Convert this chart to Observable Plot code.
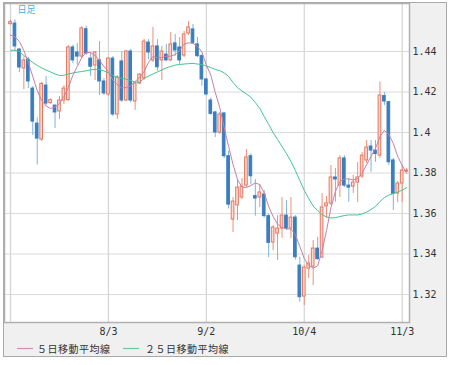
<!DOCTYPE html>
<html><head><meta charset="utf-8">
<script src="https://cdn.jsdelivr.net/npm/d3@7"></script>
<script src="https://cdn.jsdelivr.net/npm/@observablehq/plot@0.6"></script>
<style>
body{margin:0;background:#fff;}
#wrap{position:relative;width:453px;height:365px;overflow:hidden;}
#panel{position:absolute;left:3px;top:2px;width:444px;height:355px;box-sizing:border-box;background:#f0f0f0;border:1px solid #a9a9a9;}
#chart{position:absolute;left:0;top:0;}
</style></head><body>
<div id="wrap"><div id="panel"></div><div id="chart"></div></div>
<script>
const dates = ["7/4","7/5","7/6","7/7","7/8","7/11","7/12","7/13","7/14","7/15","7/18","7/19","7/20","7/21","7/22","7/25","7/26","7/27","7/28","7/29",
"8/1","8/2","8/3","8/4","8/5","8/8","8/9","8/10","8/11","8/12","8/15","8/16","8/17","8/18","8/19","8/22","8/23","8/24","8/25","8/26","8/29","8/30","8/31",
"9/1","9/2","9/5","9/6","9/7","9/8","9/9","9/12","9/13","9/14","9/15","9/16","9/19","9/20","9/21","9/22","9/23","9/26","9/27","9/28","9/29","9/30",
"10/3","10/4","10/5","10/6","10/7","10/10","10/11","10/12","10/13","10/14","10/17","10/18","10/19","10/20","10/21","10/24","10/25","10/26","10/27","10/28","10/31",
"11/1","11/2","11/3","11/4"];
const open = [1.4535,1.4538,1.4410,1.4316,1.4360,1.4217,1.4044,1.3965,1.4232,1.4145,1.4133,1.4104,1.4158,1.4160,1.4420,1.4395,1.4375,1.4510,1.4365,1.4331,
1.4356,1.4252,1.4188,1.4365,1.4089,1.4351,1.4158,1.4400,1.4153,1.4242,1.4267,1.4444,1.4356,1.4425,1.4356,1.4385,1.4356,1.4440,1.4420,1.4380,1.4489,1.4509,1.4435,
1.4377,1.4262,1.4158,1.4099,1.4000,1.4094,1.3883,1.3570,1.3640,1.3679,1.3738,1.3883,1.3686,1.3679,1.3694,1.3587,1.3457,1.3501,1.3526,1.3590,1.3526,1.3580,
1.3343,1.3190,1.3328,1.3338,1.3427,1.3383,1.3635,1.3649,1.3778,1.3738,1.3872,1.3738,1.3733,1.3753,1.3783,1.3862,1.3931,1.3911,1.3886,1.4180,1.4150,
1.3862,1.3699,1.3748,1.3807];
const high = [1.4555,1.4556,1.4412,1.4373,1.4370,1.4227,1.4072,1.4247,1.4277,1.4165,1.4135,1.4178,1.4232,1.4430,1.4431,1.4440,1.4523,1.4525,1.4390,1.4400,
1.4449,1.4267,1.4370,1.4375,1.4281,1.4400,1.4405,1.4410,1.4247,1.4291,1.4459,1.4459,1.4519,1.4459,1.4425,1.4435,1.4494,1.4484,1.4469,1.4499,1.4548,1.4533,1.4469,
1.4385,1.4265,1.4170,1.4105,1.4099,1.4099,1.3907,1.3679,1.3768,1.3773,1.3916,1.3895,1.3768,1.3743,1.3714,1.3595,1.3541,1.3590,1.3679,1.3664,1.3679,1.3590,
1.3384,1.3343,1.3393,1.3467,1.3483,1.3699,1.3684,1.3837,1.3822,1.3886,1.3886,1.3773,1.3788,1.3852,1.3901,1.3960,1.3960,1.3960,1.4249,1.4199,1.4153,
1.3872,1.3758,1.3837,1.3822];
const low = [1.4530,1.4400,1.4296,1.4212,1.4217,1.3985,1.3840,1.3956,1.4133,1.4140,1.4020,1.4064,1.4138,1.4153,1.4341,1.4332,1.4365,1.4380,1.4276,1.4257,
1.4183,1.4183,1.4178,1.4079,1.4064,1.4148,1.4153,1.4148,1.4109,1.4237,1.4257,1.4360,1.4346,1.4303,1.4257,1.4350,1.4351,1.4376,1.4336,1.4370,1.4479,1.4435,1.4370,
1.4229,1.4180,1.4085,1.3975,1.3990,1.3872,1.3622,1.3506,1.3565,1.3669,1.3728,1.3743,1.3587,1.3630,1.3578,1.3383,1.3417,1.3368,1.3477,1.3516,1.3477,1.3370,
1.3162,1.3146,1.3279,1.3244,1.3368,1.3378,1.3575,1.3640,1.3656,1.3679,1.3728,1.3656,1.3699,1.3654,1.3773,1.3847,1.3804,1.3853,1.3872,1.4133,1.3837,
1.3615,1.3654,1.3654,1.3802];
const close = [1.4545,1.4425,1.4321,1.4356,1.4252,1.4054,1.3970,1.4240,1.4143,1.4160,1.4099,1.4158,1.4217,1.4420,1.4356,1.4375,1.4514,1.4390,1.4325,1.4395,
1.4252,1.4193,1.4365,1.4089,1.4272,1.4158,1.4400,1.4158,1.4242,1.4286,1.4449,1.4395,1.4425,1.4322,1.4400,1.4356,1.4435,1.4405,1.4356,1.4484,1.4519,1.4443,1.4377,
1.4262,1.4188,1.4092,1.4000,1.4089,1.3883,1.3644,1.3659,1.3728,1.3733,1.3877,1.3784,1.3674,1.3704,1.3587,1.3455,1.3531,1.3526,1.3590,1.3526,1.3580,1.3384,
1.3187,1.3333,1.3353,1.3427,1.3375,1.3630,1.3650,1.3778,1.3768,1.3872,1.3738,1.3728,1.3753,1.3778,1.3886,1.3926,1.3911,1.3894,1.4183,1.4153,1.3853,
1.3697,1.3748,1.3812,1.3812];
const ma5 = [1.4481,1.4472,1.4449,1.4405,1.4346,1.4277,1.4207,1.4158,1.4131,1.4119,1.4126,1.4143,1.4178,1.4222,1.4282,1.4326,1.4370,1.4395,1.4395,1.4380,
1.4356,1.4326,1.4301,1.4258,1.4237,1.4220,1.4222,1.4230,1.4252,1.4272,1.4301,1.4346,1.4375,1.4370,1.4370,1.4377,1.4377,1.4385,1.4405,1.4437,1.4443,1.4440,1.4425,
1.4398,1.4333,1.4284,1.4198,1.4124,1.4025,1.3931,1.3842,1.3768,1.3731,1.3728,1.3738,1.3751,1.3743,1.3701,1.3635,1.3585,1.3548,1.3531,1.3524,1.3524,1.3496,
1.3437,1.3378,1.3343,1.3331,1.3341,1.3417,1.3516,1.3630,1.3709,1.3758,1.3771,1.3771,1.3765,1.3773,1.3800,1.3840,1.3882,1.3921,1.3980,1.4010,1.3990,
1.3946,1.3882,1.3837,1.3798];
const ma25 = [1.4406,1.4406,1.4400,1.4380,1.4363,1.4346,1.4331,1.4319,1.4308,1.4299,1.4289,1.4281,1.4283,1.4289,1.4294,1.4298,1.4301,1.4305,1.4309,1.4312,
1.4311,1.4304,1.4294,1.4282,1.4273,1.4268,1.4263,1.4257,1.4249,1.4249,1.4267,1.4279,1.4289,1.4299,1.4309,1.4319,1.4326,1.4333,1.4336,1.4338,1.4340,1.4341,1.4338,
1.4336,1.4328,1.4321,1.4311,1.4306,1.4294,1.4277,1.4247,1.4222,1.4205,1.4190,1.4174,1.4148,1.4119,1.4079,1.4040,1.4000,1.3965,1.3931,1.3896,1.3857,1.3812,
1.3763,1.3714,1.3674,1.3637,1.3615,1.3595,1.3583,1.3578,1.3580,1.3585,1.3590,1.3593,1.3593,1.3593,1.3598,1.3607,1.3620,1.3635,1.3659,1.3679,1.3691,
1.3699,1.3706,1.3716,1.3728];
const gridDates = ["7/4","8/3","9/2","10/4","11/3"];
const tickDates = ["8/3","9/2","10/4","11/3"];
const yTicks = [1.32,1.34,1.36,1.38,1.40,1.42,1.44];
const yTickLabels = ["1.32","1.34","1.36","1.38","1.4","1.42","1.44"];
const title = "日足";
const legendNames = ["５日移動平均線","２５日移動平均線"];
const legendColors = ["#d08fb4","#5ccf9c"];

const data = dates.map((d,i)=>({i, date:d, open:open[i], high:high[i], low:low[i], close:close[i], ma5:ma5[i], ma25:ma25[i], up: close[i] >= open[i]}));
const idx = d => dates.indexOf(d);

const plot = Plot.plot({
  width: 453, height: 365,
  marginLeft: 4, marginRight: 44, marginTop: 3, marginBottom: 43,
  style: {background: "transparent", fontFamily: "'DejaVu Sans Mono', monospace", fontSize: "10px", color: "#333", overflow: "visible"},
  x: {type: "linear", domain: [-1.35, 89.64], axis: null},
  y: {domain: [1.3062, 1.4637], axis: null},
  marks: [
    Plot.frame({fill: "white"}),
    Plot.ruleY(yTicks, {stroke: "#dadada", strokeWidth: 1}),
    Plot.ruleX(gridDates.map(idx), {stroke: "#d6d6d6", strokeWidth: 1.3}),
    Plot.ruleX(data, {x: "i", y1: "low", y2: "high", stroke: d => d.up ? "#ec8f79" : "#7db3e0", strokeWidth: 1}),
    Plot.rect(data, {x1: d => d.i - 0.3, x2: d => d.i + 0.3, y1: "open", y2: "close",
      fill: d => d.up ? "#fbdcd3" : "#3a7ebf", stroke: d => d.up ? "#e5775f" : "#3a7ebf", strokeWidth: 1}),
    Plot.line(data, {x: "i", y: "ma25", stroke: "#45c48e", strokeWidth: 1}),
    Plot.line(data, {x: "i", y: "ma5", stroke: "#c77fa6", strokeWidth: 1}),
    Plot.frame({stroke: "#b0b0b0", strokeWidth: 1.5}),
    Plot.axisY(yTicks, {anchor: "right", tickSize: 0, tickPadding: 3, label: null,
      tickFormat: d => yTickLabels[yTicks.indexOf(d)], fill: "#333", fontSize: 10}),
    Plot.axisX(tickDates.map(idx), {anchor: "bottom", tickSize: 0, tickPadding: 5, label: null,
      tickFormat: d => dates[d], fill: "#333", fontSize: 10}),
    Plot.text([title], {frameAnchor: "top-left", dx: 13, dy: 3, text: d => d, fill: "#3fb1e6",
      fontSize: 9, fontFamily: "'Noto Sans CJK JP'", textAnchor: "start", lineAnchor: "top"})
  ]
});

const svg = d3.select(plot);
const lg = svg.append("g").attr("font-family", "'Noto Sans CJK JP'").attr("font-size", 10).attr("fill", "#333").attr("text-anchor", "start");
const items = [{x: 17, tx: 37}, {x: 123, tx: 145}];
legendNames.forEach((name, j) => {
  lg.append("line").attr("x1", items[j].x).attr("x2", items[j].x + 16).attr("y1", 348.5).attr("y2", 348.5)
    .attr("stroke", legendColors[j]).attr("stroke-width", 1.2);
  lg.append("text").attr("x", items[j].tx).attr("y", 349).attr("dy", "0.35em").attr("text-anchor", "start")
    .attr("letter-spacing", 0.5).text(name);
});
document.getElementById("chart").appendChild(plot);
</script>
</body></html>
